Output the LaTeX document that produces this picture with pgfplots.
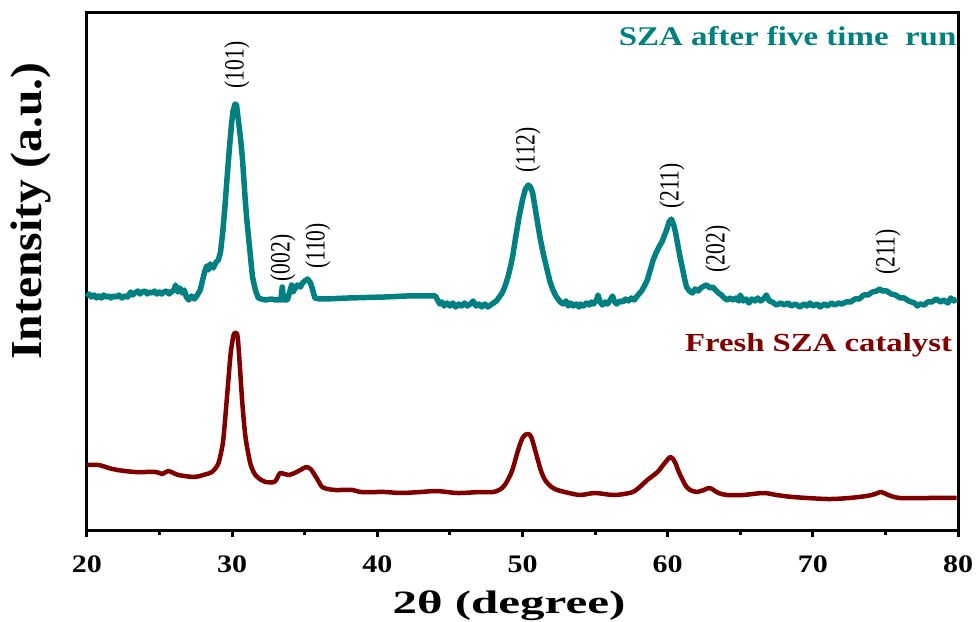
\documentclass[border=0pt]{standalone}
\usepackage{fontspec}
\setmainfont{Liberation Serif}
\usepackage{graphicx}
\usepackage{pgfplots}
\pgfplotsset{compat=1.18}
\definecolor{tealc}{RGB}{0,128,128}
\definecolor{maroonc}{RGB}{128,0,0}
\newcommand\tl[1]{\scalebox{1.25}[1.05]{\fontsize{24}{26}\selectfont\bfseries #1}}
\newcommand\pk[1]{\scalebox{1}[1.3]{\fontsize{21.5}{24}\selectfont #1}}
\begin{document}
\begin{tikzpicture}
\begin{axis}[
  at={(0,0)}, anchor=south west, scale only axis,
  width=871pt, height=517pt,
  xmin=20, xmax=80, ymin=0, ymax=517,
  xtick={20,30,40,50,60,70,80},
  xticklabels={\tl{20},\tl{30},\tl{40},\tl{50},\tl{60},\tl{70},\tl{80}},
  xticklabel style={yshift=-15pt},
  minor xtick={25,35,45,55,65,75},
  ytick=\empty,
  xtick pos=lower, tick align=outside,
  major tick length=7pt, minor tick length=5pt,
  every tick/.style={line width=3pt, black},
  axis line style={line width=3pt},
  clip=false,
]
\addplot[tealc, line width=5.5pt, line join=round] coordinates {
(20.0,233)(20.15,236)(20.3,233)(20.5,235)(20.65,232)(20.8,234)(21.0,232)(21.15,235)(21.3,233)(21.5,234)(21.65,232)(21.8,234)(22.0,233)(22.2,235)(22.4,232)(22.6,234)(22.8,233)
(23.0,238)(23.15,235)(23.3,237)(23.5,239)(23.65,236)(23.8,238)(24.0,239)(24.15,236)(24.3,238)(24.5,237)(24.65,239)(24.8,236)(25.0,238)(25.15,236)(25.3,238)(25.5,239)(25.65,236)(25.8,238)
(26.0,240)(26.1,245)(26.25,238)(26.4,242)(26.55,237)(26.7,240)(26.85,233)(27.0,230)(27.2,234)(27.4,231)(27.6,235)(27.8,240)
(28.0,252)(28.1,258)(28.25,264)(28.35,260)(28.5,266)(28.7,262)(28.9,268)(29.05,270)(29.2,278)(29.35,298)(29.5,323)(29.65,352)(29.8,380)
(29.95,405)(30.05,418)(30.2,426)(30.3,425)(30.4,413)(30.55,395)(30.7,373)(30.8,352)(30.9,330)(31.0,312)(31.1,297)(31.25,275)(31.4,253)(31.6,240)(31.8,232)
(32.0,231)(32.3,230)(32.7,231)(33.0,230)(33.35,230)(33.45,243)(33.55,230)(33.8,230)(34.0,240)(34.1,245)(34.2,238)(34.3,241)(34.5,245)(34.7,243)
(34.85,247)(35.0,249)(35.2,251)(35.4,247)(35.55,240)(35.7,232)(36.0,231)(36.4,231)(38.0,232)(40.5,233)(42.0,234)(44.0,234)
(44.15,230)(44.3,226)(44.45,228)(44.6,224)(44.8,227)(45.0,224)(45.2,227)(45.4,223)(45.6,226)(45.8,224)(46.0,227)(46.2,224)(46.4,226)
(46.6,229)(46.8,224)(47.0,226)(47.2,223)(47.4,226)(47.6,223)(47.8,225)(48.0,227)(48.2,229)(48.4,233)(48.6,237)(48.8,244)
(49.0,253)(49.2,265)(49.35,276)(49.5,290)(49.75,312)(50.0,330)(50.2,341)(50.4,345)(50.55,343)(50.7,337)(50.95,315)(51.2,293)(51.45,275)(51.7,260)(51.9,248)
(52.1,240)(52.3,234)(52.45,231)(52.6,228)(52.8,226)(53.0,229)(53.15,224)(53.3,227)(53.5,224)(53.7,226)(53.9,223)(54.0,226)(54.2,224)(54.4,227)(54.6,225)(54.75,228)
(54.9,226)(55.1,230)(55.2,235)(55.35,228)(55.5,225)(55.7,228)(55.85,226)(56.05,230)(56.2,234)(56.35,228)(56.5,226)(56.7,229)(56.9,228)(57.1,231)(57.3,229)
(57.5,232)(57.7,230)(57.9,234)(58.2,239)(58.4,244)(58.6,250)(58.8,260)(59.0,270)(59.2,277)(59.4,283)(59.6,288)(59.9,299)(60.1,308)(60.25,311)(60.4,306)
(60.55,297)(60.7,285)(60.85,273)(61.0,263)(61.15,252)(61.3,243)(61.5,239)(61.7,237)(61.9,241)(62.1,239)(62.3,242)(62.5,244)(62.7,245)(62.9,242)(63.1,243)(63.3,240)
(63.5,237)(63.7,235)(63.9,232)(64.1,230)(64.3,232)(64.5,230)(64.7,232)(64.9,229)(65.0,235)(65.2,229)(65.4,231)(65.6,227)(65.8,231)(66.0,229)(66.2,232)(66.4,229)
(66.6,231)(66.8,235)(67.0,229)(67.2,228)(67.5,225)(67.8,227)(68.0,225)(68.3,227)(68.5,224)(68.8,226)(69.1,223)(69.4,226)(69.6,224)(69.8,227)
(70.0,224)(70.3,226)(70.5,223)(70.8,226)(71.0,224)(71.3,227)(71.5,225)(71.8,227)(72.0,226)(72.3,228)(72.6,228)(72.9,231)(73.2,231)(73.5,235)
(73.8,235)(74.1,238)(74.4,239)(74.6,241)(74.8,239)(75.1,239)(75.4,236)(75.7,235)(76.0,232)(76.3,232)(76.6,229)(76.8,228)(77.0,227)(77.2,224)
(77.4,226)(77.7,225)(77.9,228)(78.2,228)(78.5,231)(78.8,228)(79.0,230)(79.3,227)(79.5,232)(79.7,229)(79.9,231)
};
\addplot[maroonc, line width=4.5pt, line join=round, smooth] coordinates {
(20.0,65)(20.8,65)(21.5,62)(22.1,60)(23.3,58)(24.7,58)(25.2,56)(25.6,59)(26.3,55)(27.4,53)(28.0,55)(28.6,58)(29.0,65)
(29.2,75)(29.4,92)(29.7,143)(29.9,177)(30.1,195)(30.25,197)(30.4,190)(30.7,127)(30.9,95)(31.1,77)(31.3,64)(31.6,55)(32.0,50)(32.3,48)(32.9,48)
(33.1,52)(33.3,57)(33.6,56)(33.9,55)(34.3,57)(34.7,60)(35.1,63)(35.4,61)(35.6,57)(35.9,50)(36.2,43)(36.6,41)(37.1,40)(38.3,40)(38.9,38)(40.5,38)(41.6,37)
(43.0,38)(44.1,39)(45.5,37)(47.1,38)(48.0,38)(48.6,42)(48.95,49)(49.3,60)(49.7,80)(50.0,92)(50.3,96)(50.6,93)(51.0,73)(51.3,58)(51.6,49)
(52.0,43)(52.4,40)(53.2,37)(54.0,35)(55.0,37)(56.2,35)(57.0,36)(57.6,38)(58.0,42)(58.6,50)(59.3,58)(59.8,67)(60.2,73)(60.5,68)(60.8,57)(61.3,43)
(61.7,39)(62.0,38)(62.5,40)(62.9,42)(63.5,37)(64.1,35)(65.2,35)(66.6,37)(67.5,35)(68.6,33)(71.0,31)(72.5,32)(73.7,34)(74.3,36)(74.7,38)(75.2,35)(76.0,32)(78.0,32)(79.9,32)
};
\node[tealc, anchor=base east, inner sep=0pt] at (axis cs:79.9,484)
  {\scalebox{1.22}[1]{\fontsize{27}{30}\selectfont\bfseries SZA after five time\ \ run}};
\node[maroonc, anchor=base east, inner sep=0pt] at (axis cs:79.6,178)
  {\scalebox{1.26}[1]{\fontsize{26}{30}\selectfont\bfseries Fresh SZA catalyst}};
\node[rotate=90, inner sep=0pt] at (axis cs:30.33,465) {\pk{(101)}};
\node[rotate=90, inner sep=0pt] at (axis cs:33.5,272) {\pk{(002)}};
\node[rotate=90, inner sep=0pt] at (axis cs:35.9,284) {\pk{(110)}};
\node[rotate=90, inner sep=0pt] at (axis cs:50.37,380) {\pk{(112)}};
\node[rotate=90, inner sep=0pt] at (axis cs:60.29,344) {\pk{(211)}};
\node[rotate=90, inner sep=0pt] at (axis cs:63.46,281) {\pk{(202)}};
\node[rotate=90, inner sep=0pt] at (axis cs:75.17,278) {\pk{(211)}};
\end{axis}
\node[anchor=base, inner sep=0pt] at (422pt,-83pt)
  {\scalebox{1.58}[1.05]{\fontsize{31}{34}\selectfont\bfseries 2θ (degree)}};
\node[rotate=90, inner sep=0pt] at (-56pt,319pt)
  {\scalebox{1.4}[1.3]{\fontsize{34}{38}\selectfont\bfseries Intensity (a.u.)}};
\pgfresetboundingbox
\path[use as bounding box] (-87pt,-91pt) rectangle (890pt,530pt);
\end{tikzpicture}
\end{document}
